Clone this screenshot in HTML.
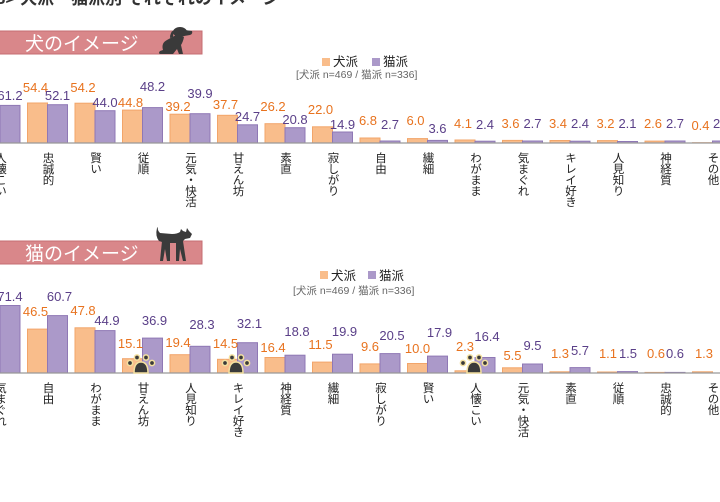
<!DOCTYPE html>
<html><head><meta charset="utf-8"><style>
body{margin:0;width:720px;height:423px;overflow:hidden;background:#fff;font-family:"Liberation Sans","Noto Sans CJK JP",sans-serif;position:relative}
.v{position:absolute;writing-mode:vertical-rl;font-size:11.5px;line-height:12px;color:#222;width:12px;height:120px;white-space:nowrap;letter-spacing:-0.5px}
</style></head><body>
<svg width="720" height="423" style="position:absolute;left:0;top:0" font-family="Liberation Sans, Noto Sans CJK JP, sans-serif">
<text x="-4" y="4" font-size="17" font-weight="bold" fill="#333">3&gt; 犬派・猫派別 それぞれのイメージ</text>
<rect x="-2" y="31" width="204" height="23" fill="#d9878a" stroke="#c56d72"/>
<text x="25" y="50" font-size="19" fill="#fff">犬のイメージ</text>
<rect x="-2" y="241" width="204" height="23" fill="#d9878a" stroke="#c56d72"/>
<text x="25" y="260" font-size="19" fill="#fff">猫のイメージ</text>
<!-- dog -->
<g fill="#3a3a3a">
<ellipse cx="180" cy="32" rx="7" ry="5"/>
<path d="M185 30 l7 1 q1 3 -2 4 l-6 1z"/>
<path d="M174 30 q-4 2 -4 8 l3 -1z"/>
<path d="M176 35 l8 2 q-1 5 -3 8 l2 9 l-4 0 l-2 -5 l-4 5 l-13 0 q-2 -1 0 -3 l3 -1 q-2 -7 4 -10z"/>
</g>
<!-- cat -->
<g fill="#3a3a3a">
<path d="M157 228 q-2 8 2 13 l6 2 l16 0 l4 -4 l5 -1 l2 -4 l-3 -3 l-2 -3 l-1 4 l-3 -1 l-2 -2 l-1 3 q-3 2 -8 2 l-12 -1 q-3 -3 -2 -6z"/>
<path d="M162 241 l-2 20 l3 0 l2 -12 l2 12 l3 0 l0 -19z M176 241 l0 20 l3 0 l1 -12 l3 12 l3 0 l-3 -20z"/>
</g>
<rect x="322" y="58" width="8" height="8" fill="#f9bd8b"/><text x="333" y="66" font-size="12.5" fill="#222">犬派</text>
<rect x="372" y="58" width="8" height="8" fill="#ab99c9"/><text x="383" y="66" font-size="12.5" fill="#222">猫派</text>
<text x="296" y="78" font-size="10.5" fill="#666">[犬派 n=469 / 猫派 n=336]</text>
<rect x="320" y="271" width="8" height="8" fill="#f9bd8b"/><text x="331" y="280" font-size="12.5" fill="#222">犬派</text>
<rect x="368" y="271" width="8" height="8" fill="#ab99c9"/><text x="379" y="280" font-size="12.5" fill="#222">猫派</text>
<text x="293" y="294" font-size="10.5" fill="#666">[犬派 n=469 / 猫派 n=336]</text>
<g fill="#f9bd8b" stroke="#f2a56a">
<rect x="27.5" y="103" width="20" height="40"/>
<rect x="75" y="103.2" width="20" height="39.8"/>
<rect x="122.5" y="110.1" width="20" height="32.9"/>
<rect x="170" y="114.2" width="20" height="28.8"/>
<rect x="217.5" y="115.3" width="20" height="27.7"/>
<rect x="265" y="123.7" width="20" height="19.3"/>
<rect x="312.5" y="126.8" width="20" height="16.2"/>
<rect x="360" y="138" width="20" height="5"/>
<rect x="407.5" y="138.6" width="20" height="4.4"/>
<rect x="455" y="140" width="20" height="3"/>
<rect x="502.5" y="140.4" width="20" height="2.6"/>
<rect x="550" y="140.5" width="20" height="2.5"/>
<rect x="597.5" y="140.6" width="20" height="2.4"/>
<rect x="645" y="141.1" width="20" height="1.9"/>
<rect x="692.5" y="142.7" width="20" height="0.3"/>
</g>
<g fill="#ab99c9" stroke="#8f78b5">
<rect x="0" y="105.4" width="20" height="37.6"/>
<rect x="47.5" y="104.7" width="20" height="38.3"/>
<rect x="95" y="110.7" width="20" height="32.3"/>
<rect x="142.5" y="107.6" width="20" height="35.4"/>
<rect x="190" y="113.7" width="20" height="29.3"/>
<rect x="237.5" y="124.8" width="20" height="18.2"/>
<rect x="285" y="127.7" width="20" height="15.3"/>
<rect x="332.5" y="132" width="20" height="11"/>
<rect x="380" y="141" width="20" height="2"/>
<rect x="427.5" y="140.4" width="20" height="2.6"/>
<rect x="475" y="141.2" width="20" height="1.8"/>
<rect x="522.5" y="141" width="20" height="2"/>
<rect x="570" y="141.2" width="20" height="1.8"/>
<rect x="617.5" y="141.5" width="20" height="1.5"/>
<rect x="665" y="141" width="20" height="2"/>
<rect x="712.5" y="141" width="20" height="2"/>
</g>
<line x1="0" y1="143" x2="720" y2="143" stroke="#999" stroke-width="1.2"/>
<g font-size="13" text-anchor="middle" fill="#e8731f">
<text x="35.5" y="92">54.4</text><text x="83" y="92">54.2</text><text x="130.5" y="107">44.8</text>
<text x="178" y="111">39.2</text><text x="225.5" y="109">37.7</text><text x="273" y="111">26.2</text>
<text x="320.5" y="114">22.0</text><text x="368" y="125">6.8</text><text x="415.5" y="125">6.0</text>
<text x="463" y="128">4.1</text><text x="510.5" y="128">3.6</text><text x="558" y="128">3.4</text>
<text x="605.5" y="128">3.2</text><text x="653" y="128">2.6</text><text x="700.5" y="130">0.4</text>
</g>
<g font-size="13" text-anchor="middle" fill="#5a3f88">
<text x="10" y="100">61.2</text><text x="57.5" y="100">52.1</text><text x="105" y="107">44.0</text>
<text x="152.5" y="91">48.2</text><text x="200" y="98">39.9</text><text x="247.5" y="121">24.7</text>
<text x="295" y="124">20.8</text><text x="342.5" y="129">14.9</text><text x="390" y="129">2.7</text>
<text x="437.5" y="133">3.6</text><text x="485" y="129">2.4</text><text x="532.5" y="128">2.7</text>
<text x="580" y="128">2.4</text><text x="627.5" y="128">2.1</text><text x="675" y="128">2.7</text><text x="722" y="128">2.7</text>
</g>
<g fill="#f9bd8b" stroke="#f2a56a">
<rect x="27.5" y="329.1" width="20" height="43.9"/>
<rect x="75" y="327.8" width="20" height="45.2"/>
<rect x="122.5" y="358.7" width="20" height="14.3"/>
<rect x="170" y="354.7" width="20" height="18.3"/>
<rect x="217.5" y="359.3" width="20" height="13.7"/>
<rect x="265" y="357.5" width="20" height="15.5"/>
<rect x="312.5" y="362.1" width="20" height="10.9"/>
<rect x="360" y="363.9" width="20" height="9.1"/>
<rect x="407.5" y="363.5" width="20" height="9.5"/>
<rect x="455" y="370.8" width="20" height="2.2"/>
<rect x="502.5" y="367.8" width="20" height="5.2"/>
<rect x="550" y="371.8" width="20" height="1.2"/>
<rect x="597.5" y="372" width="20" height="1"/>
<rect x="645" y="372.4" width="20" height="0.6"/>
<rect x="692.5" y="371.8" width="20" height="1.2"/>
</g>
<g fill="#ab99c9" stroke="#8f78b5">
<rect x="0" y="305.5" width="20" height="67.5"/>
<rect x="47.5" y="315.6" width="20" height="57.4"/>
<rect x="95" y="330.6" width="20" height="42.4"/>
<rect x="142.5" y="338.1" width="20" height="34.9"/>
<rect x="190" y="346.3" width="20" height="26.7"/>
<rect x="237.5" y="342.7" width="20" height="30.3"/>
<rect x="285" y="355.2" width="20" height="17.8"/>
<rect x="332.5" y="354.2" width="20" height="18.8"/>
<rect x="380" y="353.6" width="20" height="19.4"/>
<rect x="427.5" y="356.1" width="20" height="16.9"/>
<rect x="475" y="357.5" width="20" height="15.5"/>
<rect x="522.5" y="364" width="20" height="9"/>
<rect x="570" y="367.6" width="20" height="5.4"/>
<rect x="617.5" y="371.6" width="20" height="1.4"/>
<rect x="665" y="372.4" width="20" height="0.6"/>
</g>
<line x1="0" y1="373" x2="720" y2="373" stroke="#999" stroke-width="1.2"/>
<g font-size="13" text-anchor="middle" fill="#e8731f">
<text x="-12" y="282">78.8</text>
<text x="35.5" y="316">46.5</text><text x="83" y="315">47.8</text><text x="130.5" y="348">15.1</text>
<text x="178" y="347">19.4</text><text x="225.5" y="348">14.5</text><text x="273" y="352">16.4</text>
<text x="320.5" y="349">11.5</text><text x="370" y="351">9.6</text><text x="417.5" y="353">10.0</text>
<text x="465" y="351">2.3</text><text x="512.5" y="360">5.5</text><text x="560" y="358">1.3</text>
<text x="608" y="358">1.1</text><text x="656" y="358">0.6</text><text x="704" y="358">1.3</text>
</g>
<g font-size="13" text-anchor="middle" fill="#5a3f88">
<text x="10" y="301">71.4</text><text x="59.5" y="301">60.7</text><text x="107" y="325">44.9</text>
<text x="154.5" y="325">36.9</text><text x="202" y="329">28.3</text><text x="249.5" y="328">32.1</text>
<text x="297" y="336">18.8</text><text x="344.5" y="336">19.9</text><text x="392" y="340">20.5</text>
<text x="439.5" y="337">17.9</text><text x="487" y="341">16.4</text><text x="532.5" y="350">9.5</text>
<text x="580" y="355">5.7</text><text x="628" y="358">1.5</text><text x="675" y="358">0.6</text>
</g>
<g id="paw" fill="#3a3a3a" stroke="#f3e0a0" stroke-width="1.5">
<path d="M134 373 q0 -11 7 -11 q7 0 7 11z"/>
<circle cx="130" cy="363" r="2.6"/><circle cx="137" cy="357.5" r="2.6"/><circle cx="146" cy="357.5" r="2.6"/><circle cx="152" cy="363" r="2.6"/>
</g>
<use href="#paw" x="95"/>
<use href="#paw" x="333"/>
</svg>
<div class="v" style="left:-6px;top:152px">人懐こい</div>
<div class="v" style="left:41.5px;top:152px">忠誠的</div>
<div class="v" style="left:89px;top:152px">賢い</div>
<div class="v" style="left:136.5px;top:152px">従順</div>
<div class="v" style="left:184px;top:152px">元気・快活</div>
<div class="v" style="left:231.5px;top:152px">甘えん坊</div>
<div class="v" style="left:279px;top:152px">素直</div>
<div class="v" style="left:326.5px;top:152px">寂しがり</div>
<div class="v" style="left:374px;top:152px">自由</div>
<div class="v" style="left:421.5px;top:152px">繊細</div>
<div class="v" style="left:469px;top:152px">わがまま</div>
<div class="v" style="left:516.5px;top:152px">気まぐれ</div>
<div class="v" style="left:564px;top:152px">キレイ好き</div>
<div class="v" style="left:611.5px;top:152px">人見知り</div>
<div class="v" style="left:659px;top:152px">神経質</div>
<div class="v" style="left:706.5px;top:152px">その他</div>
<div class="v" style="left:-6px;top:382px">気まぐれ</div>
<div class="v" style="left:41.5px;top:382px">自由</div>
<div class="v" style="left:89px;top:382px">わがまま</div>
<div class="v" style="left:136.5px;top:382px">甘えん坊</div>
<div class="v" style="left:184px;top:382px">人見知り</div>
<div class="v" style="left:231.5px;top:382px">キレイ好き</div>
<div class="v" style="left:279px;top:382px">神経質</div>
<div class="v" style="left:326.5px;top:382px">繊細</div>
<div class="v" style="left:374px;top:382px">寂しがり</div>
<div class="v" style="left:421.5px;top:382px">賢い</div>
<div class="v" style="left:469px;top:382px">人懐こい</div>
<div class="v" style="left:516.5px;top:382px">元気・快活</div>
<div class="v" style="left:564px;top:382px">素直</div>
<div class="v" style="left:611.5px;top:382px">従順</div>
<div class="v" style="left:659px;top:382px">忠誠的</div>
<div class="v" style="left:706.5px;top:382px">その他</div>
</body></html>
